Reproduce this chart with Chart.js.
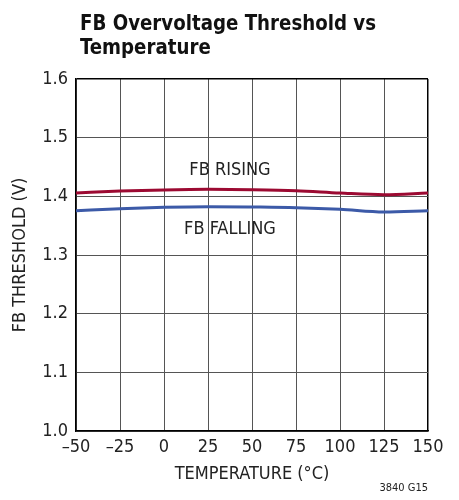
<!DOCTYPE html>
<html>
<head>
<meta charset="utf-8">
<script src="https://cdn.jsdelivr.net/npm/chart.js@4.4.1/dist/chart.umd.min.js"></script>
<style>
  html, body { margin: 0; padding: 0; background: #fff; }
  .wrap { width: 459px; height: 500px; position: relative; }
</style>
</head>
<body>
<div class="wrap"><canvas id="fbChart"></canvas></div>
<script>
const temps = [-50, -25, 0, 25, 50, 75, 100, 125, 150];
const fbRising = [1.4057, 1.409, 1.411, 1.412, 1.4114, 1.4097, 1.4057, 1.4028, 1.4057];
const fbFalling = [1.3756, 1.379, 1.3813, 1.3824, 1.3818, 1.3807, 1.3779, 1.3733, 1.3756];
const seriesNames = ["FB RISING", "FB FALLING"];
const labelSpots = [[37.5, 1.4448], [37.5, 1.3431]];

const FONT = "'Liberation Sans Narrow', 'DejaVu Sans Condensed', 'Roboto Condensed', sans-serif";

const toPoints = (ys) => temps.map((t, i) => ({ x: t, y: ys[i] }));

// title, curve labels and figure number
const textPlugin = {
  id: "textPlugin",
  afterDraw(chart) {
    const ctx = chart.ctx;
    const xs = chart.scales.x, ys = chart.scales.y;
    ctx.save();
    ctx.fillStyle = "#111";
    ctx.textAlign = "left";
    ctx.textBaseline = "alphabetic";
    ctx.font = "bold 22px " + FONT;
    ctx.save();
    ctx.translate(80, 0);
    ctx.scale(0.92, 1); // squeeze a bit, the original is a condensed face
    ctx.fillText("FB Overvoltage Threshold vs", 0, 30);
    ctx.fillText("Temperature", 0, 54);
    ctx.restore();

    ctx.fillStyle = "#222";
    ctx.font = "18px " + FONT;
    ctx.textAlign = "center";
    ctx.textBaseline = "middle";
    seriesNames.forEach((name, i) => {
      ctx.fillText(name, xs.getPixelForValue(labelSpots[i][0]), ys.getPixelForValue(labelSpots[i][1]));
    });

    ctx.font = "11px " + FONT;
    ctx.textAlign = "right";
    ctx.fillText("3840 G15", 428, 488);
    ctx.restore();
  }
};

new Chart(document.getElementById("fbChart"), {
  type: "line",
  data: {
    datasets: [
      {
        label: seriesNames[0],
        data: toPoints(fbRising),
        borderColor: "#9c0a32",
        borderWidth: 3,
        pointRadius: 0,
        tension: 0.4,
        cubicInterpolationMode: "monotone",
      },
      {
        label: seriesNames[1],
        data: toPoints(fbFalling),
        borderColor: "#3c5aa8",
        borderWidth: 3,
        pointRadius: 0,
        tension: 0.4,
        cubicInterpolationMode: "monotone",
      },
    ],
  },
  options: {
    responsive: true,
    maintainAspectRatio: false,
    animation: false,
    layout: {
      padding: { left: 0, right: 31, top: 79, bottom: 0 }
    },
    plugins: {
      legend: { display: false },
      title: { display: false },
      tooltip: { enabled: false },
    },
    scales: {
      x: {
        type: "linear",
        min: -50,
        max: 150,
        afterFit: (s) => { s.height = 69; },
        ticks: {
          stepSize: 25,
          padding: 6,
          color: "#222",
          font: { family: FONT, size: 18 },
          callback: (v) => (v < 0 ? "\u2013" + Math.abs(v) : "" + v),
        },
        grid: {
          color: (c) => (c.tick && c.tick.value === 150 ? "#000" : "#555"),
          lineWidth: (c) => (c.tick && c.tick.value === 150 ? 1.5 : 1),
          drawTicks: false,
        },
        border: { color: "#000", width: 1.5 },
        title: {
          display: true,
          text: "TEMPERATURE (\u00B0C)",
          color: "#222",
          font: { family: FONT, size: 18 },
          padding: { top: 0, bottom: 15 },
        },
      },
      y: {
        min: 1.0,
        max: 1.6,
        afterFit: (s) => { s.width = 76; },
        ticks: {
          stepSize: 0.1,
          padding: 8,
          color: "#222",
          font: { family: FONT, size: 18 },
          callback: (v) => v.toFixed(1),
        },
        grid: {
          color: (c) => (c.tick && (c.tick.value === 1.6 || c.tick.value === 1.4) ? "#000" : "#555"),
          lineWidth: (c) => (c.tick && c.tick.value === 1.6 ? 1.5 : 1),
          drawTicks: false,
        },
        border: { color: "#000", width: 1.5 },
        title: {
          display: true,
          text: "FB THRESHOLD (V)",
          color: "#222",
          font: { family: FONT, size: 18 },
          padding: { top: 10, bottom: 0 },
        },
      },
    },
  },
  plugins: [textPlugin],
});
</script>
</body>
</html>
